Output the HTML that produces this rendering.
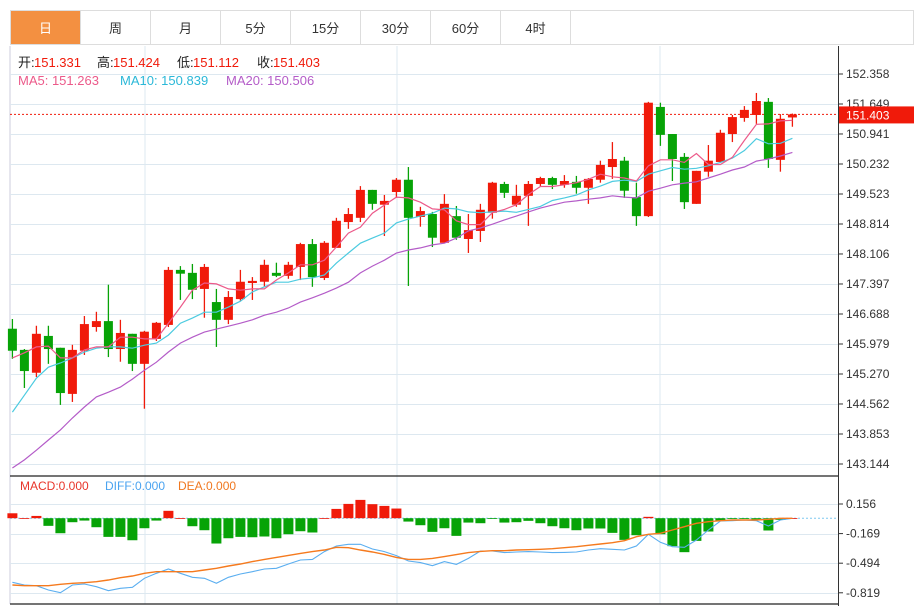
<!DOCTYPE html>
<html><head><meta charset="utf-8"><style>
body{margin:0;background:#fff;font-family:"Liberation Sans","Noto Sans CJK SC",sans-serif;}
#wrap{position:relative;width:914px;height:606px;overflow:hidden;background:#fff}
.tabs{position:absolute;left:10px;top:10px;width:904px;height:35px;border:1px solid #ddd;box-sizing:border-box;display:flex}
.tab{width:70px;height:100%;border-right:1px solid #ddd;box-sizing:border-box;display:flex;align-items:center;justify-content:center;font-size:13px;color:#333}
.tab.on{background:#f39041;color:#fff}
svg{position:absolute;left:0;top:0}
</style></head><body>
<div id="wrap">
<div class="tabs">
<div class="tab on">日</div>
<div class="tab">周</div>
<div class="tab">月</div>
<div class="tab">5分</div>
<div class="tab">15分</div>
<div class="tab">30分</div>
<div class="tab">60分</div>
<div class="tab">4时</div>
</div>
<svg id="chart" width="914" height="606"></svg>
</div>
<script>
const opens=[146.34,145.84,145.30,146.17,145.89,144.80,145.82,146.38,146.52,145.86,146.22,145.51,146.10,146.43,147.73,147.66,147.28,146.97,146.55,147.04,147.42,147.45,147.66,147.59,147.80,148.34,147.54,148.25,148.86,148.96,149.62,149.27,149.57,149.86,148.98,149.05,148.37,149.00,148.46,148.65,149.08,149.76,149.27,149.48,149.76,149.90,149.74,149.81,149.67,149.86,150.16,150.31,149.45,149.00,151.58,150.94,150.40,149.29,150.05,150.28,150.94,151.32,151.39,151.70,150.33,151.331];
const highs=[146.57,145.86,146.41,146.41,145.89,145.96,146.64,146.74,147.38,146.55,146.22,146.29,146.50,147.80,147.82,147.87,147.87,147.28,147.23,147.73,147.56,147.97,147.90,147.92,148.37,148.46,148.41,148.96,149.19,149.71,149.62,149.50,149.90,150.16,149.22,149.10,149.52,149.24,149.05,149.29,149.81,149.81,149.74,149.83,149.93,149.93,149.97,149.95,149.90,150.31,150.75,150.40,149.79,151.70,151.68,150.94,150.49,150.07,150.68,151.04,151.39,151.60,151.91,151.79,151.41,151.424];
const lows=[145.63,144.94,145.20,145.51,144.54,144.61,145.72,146.27,145.67,145.56,145.34,144.45,146.05,146.38,147.02,147.04,146.60,145.91,146.45,147.00,147.02,147.33,147.56,147.52,147.49,147.33,147.49,148.25,148.70,148.86,149.15,148.53,149.43,147.35,148.75,148.27,148.37,148.44,148.13,148.39,148.94,149.43,149.22,148.77,149.71,149.64,149.67,149.53,149.29,149.79,149.88,149.43,148.77,148.98,150.66,149.83,149.17,149.29,149.93,150.28,150.75,151.23,151.18,150.14,150.05,151.112];
const closes=[145.82,145.34,146.22,145.86,144.82,145.84,146.45,146.52,145.86,146.24,145.51,146.27,146.48,147.73,147.64,147.26,147.80,146.55,147.09,147.45,147.47,147.85,147.59,147.85,148.34,147.56,148.37,148.89,149.05,149.62,149.29,149.36,149.86,148.96,149.12,148.49,149.29,148.49,148.67,149.15,149.79,149.55,149.48,149.76,149.90,149.74,149.83,149.67,149.88,150.21,150.35,149.60,149.00,151.68,150.92,150.35,149.33,150.07,150.31,150.97,151.34,151.51,151.72,150.35,151.30,151.403];
const ma5=[145.65,145.77,145.91,145.93,145.65,145.65,145.84,145.91,145.91,146.14,146.14,146.10,146.10,146.47,146.85,147.25,147.42,147.40,147.28,147.25,147.28,147.28,147.49,147.66,147.85,147.85,147.96,148.27,148.60,148.74,149.07,149.26,149.45,149.43,149.33,149.17,149.15,148.89,148.80,148.80,149.08,149.16,149.27,149.51,149.70,149.70,149.74,149.79,149.87,149.99,149.93,149.90,149.83,150.19,150.33,150.33,150.27,150.48,150.22,150.22,150.39,150.79,151.17,151.18,151.25,151.263];
const ma10=[144.37,144.77,145.17,145.43,145.53,145.65,145.79,145.88,145.91,145.91,145.88,145.95,146.00,146.19,146.47,146.59,146.73,146.73,146.85,146.99,147.21,147.33,147.44,147.44,147.51,147.54,147.61,147.89,148.13,148.36,148.48,148.60,148.84,148.93,149.00,149.07,149.19,149.17,149.10,149.08,149.10,149.12,149.09,149.16,149.23,149.37,149.43,149.50,149.62,149.71,149.82,149.85,149.82,149.99,150.07,150.15,150.11,150.13,150.19,150.27,150.37,150.55,150.83,150.71,150.72,150.839];
const ma20=[143.05,143.24,143.47,143.71,143.95,144.23,144.49,144.73,144.84,144.96,145.15,145.36,145.55,145.79,146.00,146.14,146.26,146.33,146.40,146.47,146.55,146.66,146.73,146.83,146.97,147.07,147.18,147.30,147.44,147.66,147.82,147.96,148.13,148.20,148.25,148.32,148.36,148.48,148.65,148.72,148.81,148.91,149.00,149.10,149.19,149.26,149.33,149.36,149.40,149.43,149.48,149.45,149.43,149.59,149.66,149.74,149.78,149.81,149.90,149.99,150.09,150.16,150.30,150.35,150.42,150.506];
const macdHist=[0.054,0.002,0.025,-0.084,-0.165,-0.044,-0.026,-0.099,-0.205,-0.205,-0.242,-0.110,-0.026,0.081,0.002,-0.088,-0.132,-0.278,-0.220,-0.205,-0.209,-0.201,-0.220,-0.176,-0.143,-0.157,0.002,0.102,0.157,0.201,0.154,0.135,0.106,-0.037,-0.077,-0.150,-0.110,-0.194,-0.048,-0.055,-0.004,-0.048,-0.044,-0.029,-0.055,-0.088,-0.110,-0.132,-0.113,-0.113,-0.161,-0.238,-0.187,0.015,-0.176,-0.307,-0.373,-0.249,-0.146,-0.026,-0.003,-0.003,-0.018,-0.135,-0.018,0.000];
const diffVals=[-0.704,-0.733,-0.741,-0.788,-0.818,-0.733,-0.722,-0.752,-0.796,-0.770,-0.759,-0.660,-0.605,-0.558,-0.605,-0.649,-0.660,-0.715,-0.649,-0.613,-0.587,-0.558,-0.550,-0.503,-0.459,-0.452,-0.367,-0.305,-0.287,-0.287,-0.338,-0.367,-0.411,-0.470,-0.488,-0.521,-0.477,-0.507,-0.441,-0.360,-0.360,-0.378,-0.371,-0.367,-0.371,-0.378,-0.375,-0.371,-0.349,-0.335,-0.342,-0.349,-0.305,-0.177,-0.265,-0.313,-0.320,-0.239,-0.130,-0.031,-0.027,-0.020,-0.027,-0.086,-0.020,-0.001];
const deaVals=[-0.733,-0.741,-0.741,-0.741,-0.726,-0.715,-0.708,-0.697,-0.679,-0.653,-0.635,-0.605,-0.587,-0.587,-0.587,-0.587,-0.569,-0.550,-0.525,-0.503,-0.477,-0.452,-0.430,-0.408,-0.386,-0.367,-0.349,-0.320,-0.324,-0.349,-0.371,-0.397,-0.430,-0.452,-0.452,-0.441,-0.422,-0.400,-0.378,-0.364,-0.357,-0.357,-0.349,-0.346,-0.342,-0.335,-0.324,-0.313,-0.298,-0.283,-0.269,-0.247,-0.203,-0.177,-0.166,-0.130,-0.093,-0.056,-0.038,-0.027,-0.020,-0.020,-0.020,-0.012,-0.001,-0.001];
const priceTicks=["152.358","151.649","150.941","150.232","149.523","148.814","148.106","147.397","146.688","145.979","145.270","144.562","143.853","143.144"];
const macdTicks=["0.156","-0.169","-0.494","-0.819"];
const lastPrice=151.403;

const svg=document.getElementById('chart');
const NS='http://www.w3.org/2000/svg';
function mk(tag,attrs,parent){const e=document.createElementNS(NS,tag);for(const k in attrs)e.setAttribute(k,attrs[k]);(parent||svg).appendChild(e);return e;}
const xOf=i=>12.4+12*i;
const yP=p=>74+(152.358-p)/0.70877*30;
const yM=v=>518.2-v/0.325*29.6;
const RED='#f01a0a',GREEN='#07a307';

// frame + grid
let g=mk('g',{});


mk('line',{x1:10,y1:46,x2:10,y2:604,stroke:'#ccd',"stroke-width":1},g);
[145,397,660].forEach(x=>mk('line',{x1:x,y1:46,x2:x,y2:604,stroke:'#dde8f0',"stroke-width":1},g));
priceTicks.forEach(t=>{const y=Math.round(yP(parseFloat(t)))+0.5;mk('line',{x1:10,y1:y,x2:838,y2:y,stroke:'#dde8f0',"stroke-width":1},g);});
macdTicks.forEach(t=>{const y=Math.round(yM(parseFloat(t)))+0.5;mk('line',{x1:10,y1:y,x2:838,y2:y,stroke:'#dde8f0',"stroke-width":1},g);});
mk('line',{x1:10,y1:476,x2:838,y2:476,stroke:'#222',"stroke-width":1.2},g);
mk('line',{x1:10,y1:604,x2:838,y2:604,stroke:'#222',"stroke-width":1.2},g);
mk('line',{x1:838.5,y1:46,x2:838.5,y2:606,stroke:'#333',"stroke-width":1},g);

// axis labels
let ax=mk('g',{"font-size":12,fill:'#333',"font-family":'"Liberation Sans",sans-serif'});


priceTicks.forEach(t=>{const y=yP(parseFloat(t));mk('line',{x1:839,y1:y,x2:843,y2:y,stroke:'#333'},ax);const tx=mk('text',{x:846,y:y+4},ax);tx.textContent=t;});
let mx=mk('g',{"font-size":12,fill:'#333',"font-family":'"Liberation Sans",sans-serif'});


macdTicks.forEach(t=>{const y=yM(parseFloat(t));mk('line',{x1:839,y1:y,x2:843,y2:y,stroke:'#333'},mx);const tx=mk('text',{x:846,y:y+4},mx);tx.textContent=t;});

// last price line
const ly=yP(lastPrice);
const lpl=mk('line',{x1:10,y1:ly,x2:838,y2:ly,stroke:RED,"stroke-width":1,"stroke-dasharray":"2,2"});


const lpb=mk('rect',{x:839,y:ly-8,width:75,height:17,fill:RED});


const lpt=mk('text',{x:846,y:ly+5,fill:'#fff',"font-size":12,"font-family":'"Liberation Sans",sans-serif'});
lpt.textContent=lastPrice.toFixed(3);

// candles
let cg=mk('g',{});


for(let i=0;i<closes.length;i++){
  const up=closes[i]>=opens[i],col=up?RED:GREEN,x=xOf(i);
  const w=mk('line',{x1:x,y1:yP(highs[i]),x2:x,y2:yP(lows[i]),stroke:col,"stroke-width":1.3},cg);
  
  
  const t=yP(Math.max(opens[i],closes[i])),b=yP(Math.min(opens[i],closes[i]));
  const r=mk('rect',{x:x-4.5,y:t,width:9,height:Math.max(1.5,b-t),fill:col},cg);
  
  
}
function line(vals,yf,color,name,w){
  const d=vals.map((v,i)=>(i?'L':'M')+xOf(i).toFixed(1)+','+yf(v).toFixed(1)).join('');
  const p=mk('path',{d:d,fill:'none',stroke:color,"stroke-width":w||1.2});
  
  
}
line(ma20,yP,'#b45cc8','ma20-line');
line(ma10,yP,'#4ccbe0','ma10-line');
line(ma5,yP,'#ec5a8a','ma5-line');

// macd
const z=yM(0);
const zl=mk('line',{x1:10,y1:z,x2:838,y2:z,stroke:'#7fc8f0',"stroke-width":1,"stroke-dasharray":"2,2"});


let hg=mk('g',{});


macdHist.forEach((v,i)=>{
  const y=yM(v);
  const r=mk('rect',{x:xOf(i)-5,y:Math.min(y,z),width:10,height:Math.max(0.8,Math.abs(y-z)),fill:v>=0?RED:GREEN},hg);
  
  
});
line(diffVals,yM,'#5aaef0','diff-line',1.1);
line(deaVals,yM,'#f57a1e','dea-line',1.4);

// legends
function txt(x,y,s,fill,size,name){const t=mk('text',{x:x,y:y,fill:fill,"font-size":size,"font-family":'"Liberation Sans","Noto Sans CJK SC",sans-serif'});t.textContent=s;return t;}
let x0=18;
[['开:','151.331'],['高:','151.424'],['低:','151.112'],['收:','151.403']].forEach((p,k)=>{
  const xs=[18,97,177,257][k];
  txt(xs,67,p[0],'#222',13,'ohlc-label');
  txt(xs+16,67,p[1],RED,13,'ohlc-value');
});
txt(18,85,'MA5: 151.263','#ec5a8a',13,'ma5-legend');
txt(120,85,'MA10: 150.839','#2bb8d8',13,'ma10-legend');
txt(226,85,'MA20: 150.506','#b45cc8',13,'ma20-legend');
txt(20,490,'MACD:0.000','#e8352a',12,'macd-legend');
txt(105,490,'DIFF:0.000','#4aa3f0',12,'diff-legend');
txt(178,490,'DEA:0.000','#f07820',12,'dea-legend');
</script>
</body></html>
